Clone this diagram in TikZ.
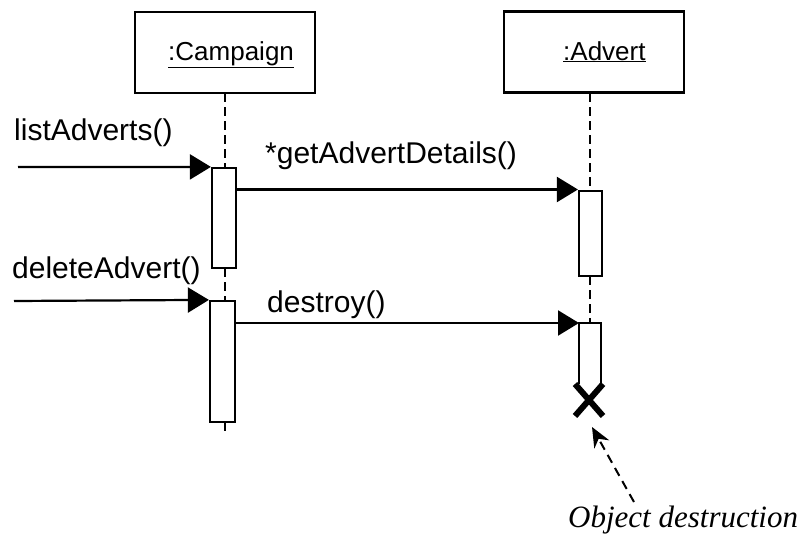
\documentclass[tikz,border=0pt]{standalone}
\usepackage{fontspec}
\setmainfont{Liberation Sans}
\newfontfamily\serifit{Liberation Serif}
\usetikzlibrary{arrows.meta,calc}
\begin{document}
\begin{tikzpicture}[x=1pt,y=-1pt,
  obj/.style={draw,line width=2.2pt,minimum width=180pt,minimum height=81pt,inner sep=0pt},
  objlabel/.style={inner sep=0pt,anchor=base west,font=\fontsize{26}{30}\selectfont},
  msglabel/.style={inner sep=0pt,anchor=base west,font=\fontsize{30}{35}\selectfont},
  act/.style={draw,line width=2.2pt,fill=white,inner sep=0pt},
  life/.style={line width=1.7pt,dash pattern=on 9pt off 5pt},
  msg/.style={line width=2.2pt,-{Triangle[length=21pt,width=25pt]}},
  note/.style={line width=2pt,dash pattern=on 9pt off 6pt,-{Stealth[length=20pt,width=17pt]}}
]
\useasboundingbox (0,0) rectangle (803,538);
% objects
\node[obj] (camp) at (225,52.5) {};
\node[objlabel] (camplab) at (168,60) {\underline{:Campaign}};
\node[obj] (adv) at (594,52) {};
\node[objlabel] (advlab) at (563,60) {\underline{:Advert}};
% lifelines
\draw[life] (225,93) -- (225,168);
\draw[life] (225,268) -- (225,301);
\draw[life] (225,422) -- (225,432);
\draw[life] (590,93) -- (590,191);
\draw[life] (590,276) -- (590,323);
% activations
\node[act,minimum width=24pt,minimum height=100pt] (ca1) at (224,218) {};
\node[act,minimum width=25pt,minimum height=121pt] (ca2) at (222.5,361.5) {};
\node[act,minimum width=23pt,minimum height=85pt] (aa1) at (590.5,233.5) {};
\coordinate (aa2tl) at (579,323);
\coordinate (aa2tr) at (601,323);
\coordinate (aa2bl) at (579,384);
\coordinate (aa2br) at (601,384);
\draw[line width=2.2pt] (aa2bl) -- (aa2tl) -- (aa2tr) -- (aa2br);
% destruction mark
\coordinate (xc) at (589,400);
\draw[line width=6pt] ($(xc)+(-14,-16)$) -- ($(xc)+(14,16)$);
\draw[line width=6pt] ($(xc)+(14,-16)$) -- ($(xc)+(-14,16)$);
% messages
\coordinate (in1) at (18,167);
\coordinate (in2) at (14,301);
\draw[msg] (in1) -- (ca1.north west);
\draw[msg] (ca1.east |- 0,189.5) -- (aa1.north west |- 0,189.5);
\draw[msg] (in2) -- (ca2.north west);
\draw[msg] (ca2.east |- aa2tl) -- (aa2tl);
% labels
\node[msglabel] (l1) at (14,140) {listAdverts()};
\node[msglabel] (l2) at (265,163) {*getAdvertDetails()};
\node[msglabel] (l3) at (12,278) {deleteAdvert()};
\node[msglabel] (l4) at (267,312) {destroy()};
% note
\node[inner sep=0pt,anchor=base west,font=\serifit\itshape\fontsize{31}{36}\selectfont] (note) at (568,527) {Object destruction};
\coordinate (notetail) at (634,502);
\coordinate (notetip) at (592,427);
\draw[note] (notetail) -- (notetip);
\end{tikzpicture}
\end{document}
